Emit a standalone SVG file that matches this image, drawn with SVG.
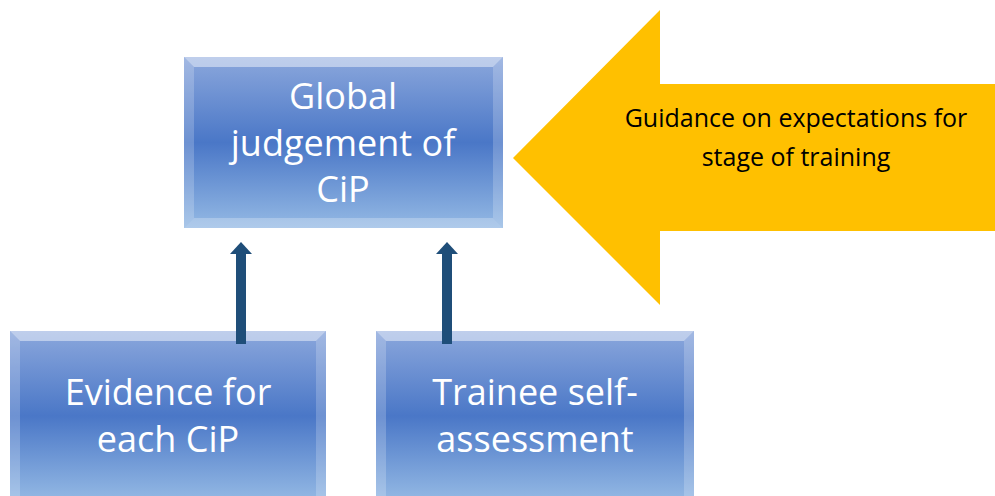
<svg xmlns="http://www.w3.org/2000/svg" width="995" height="496" viewBox="0 0 995 496">
<style>
.box{fill:url(#g)}
.bt{fill:#ffffff;opacity:0.45}
.bs{fill:#ffffff;opacity:0.2}
.bb{fill:#ffffff;opacity:0.25}
.lbl{font-family:"Open Sans","Liberation Sans",sans-serif;fill:#ffffff;text-anchor:middle;font-size:36px}
.conn{stroke:#1f4e79;stroke-width:10;fill:none}
.head{fill:#1f4e79}
.gt{font-family:"Open Sans","Liberation Sans",sans-serif;font-size:25px;text-anchor:middle;fill:#000000}
</style>
<defs>
<linearGradient id="g" x1="0" y1="0" x2="0" y2="1">
<stop offset="0" stop-color="#8ba7dc"/>
<stop offset="0.5" stop-color="#4a77c7"/>
<stop offset="1" stop-color="#94b9e4"/>
</linearGradient>
</defs>
<g id="guidance">
<polygon points="513,158 660,10 660,84 995,84 995,231 660,231 660,305" fill="#ffc000"/>
<text x="796" y="127" class="gt">Guidance on expectations for</text>
<text x="796" y="166" class="gt">stage of training</text>
</g>
<g id="global">
<rect x="184" y="57" width="319" height="171" class="box"/>
<polygon points="184,57 503,57 493,67 194,67" class="bt"/>
<polygon points="184,57 194,67 194,218 184,228" class="bs"/>
<polygon points="503,57 503,228 493,218 493,67" class="bs"/>
<polygon points="184,228 194,218 493,218 503,228" class="bb"/>
<text x="343" y="109" class="lbl">Global</text>
<text x="343" y="156" class="lbl">judgement of</text>
<text x="343" y="202" class="lbl">CiP</text>
</g>
<g id="evidence">
<rect x="10" y="331" width="316" height="170" class="box"/>
<polygon points="10,331 326,331 316,341 20,341" class="bt"/>
<polygon points="10,331 20,341 20,496 10,496" class="bs"/>
<polygon points="326,331 326,496 316,496 316,341" class="bs"/>
<text x="168" y="405" class="lbl">Evidence for</text>
<text x="168" y="452" class="lbl">each CiP</text>
</g>
<g id="self">
<rect x="376" y="331" width="318" height="170" class="box"/>
<polygon points="376,331 694,331 684,341 386,341" class="bt"/>
<polygon points="376,331 386,341 386,496 376,496" class="bs"/>
<polygon points="694,331 694,496 684,496 684,341" class="bs"/>
<text x="535" y="405" class="lbl">Trainee self-</text>
<text x="535" y="452" class="lbl">assessment</text>
</g>
<g id="connectors">
<line x1="241" y1="344" x2="241" y2="252" class="conn"/>
<polygon points="230,254 241,242 252,254" class="head"/>
<line x1="447" y1="344" x2="447" y2="252" class="conn"/>
<polygon points="436,254 447,242 458,254" class="head"/>
</g>
</svg>
